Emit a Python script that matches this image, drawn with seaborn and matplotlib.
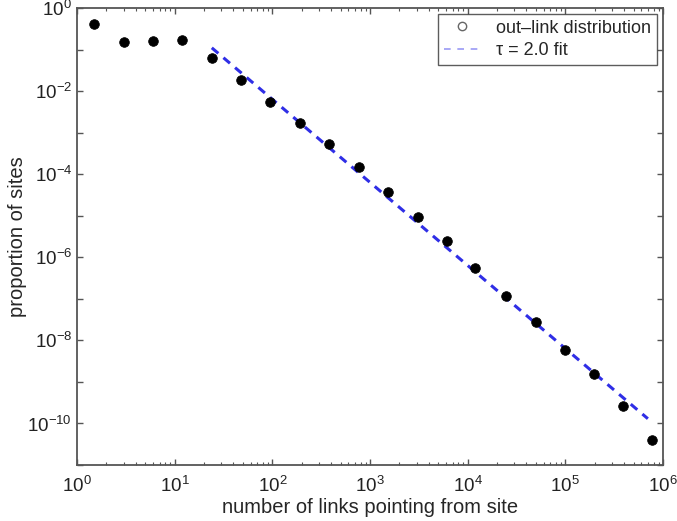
import matplotlib
matplotlib.use("Agg")
import matplotlib.pyplot as plt
import matplotlib.ticker as mticker
from matplotlib.lines import Line2D
import seaborn as sns
import pandas as pd

# out-link distribution
links = [1.5, 3, 6, 12, 24, 48, 94, 192, 380, 770, 1520, 3100, 6100,
         12000, 24500, 50000, 1.0e5, 1.95e5, 3.9e5, 7.8e5]
proportion = [0.42, 0.155, 0.16, 0.17, 0.061, 0.019, 5.5e-3, 1.7e-3, 5.2e-4,
              1.5e-4, 3.7e-5, 9.5e-6, 2.4e-6, 5.5e-7, 1.2e-7, 2.8e-8,
              5.8e-9, 1.55e-9, 2.7e-10, 4.0e-11]

# tau = 2.0 fit line endpoints
fit_x = [24, 7.0e5]
fit_y = [0.11, 1.3e-10]

sns.set_style("ticks")
plt.rcParams['font.family'] = ['Liberation Sans', 'DejaVu Sans']
plt.rcParams['mathtext.fontset'] = 'custom'
plt.rcParams['mathtext.rm'] = 'Liberation Sans'
plt.rcParams['mathtext.it'] = 'Liberation Sans:italic'

fig = plt.figure(figsize=(6.77, 5.21), dpi=100)
ax = fig.add_axes([77/677, 56/521, (663-77)/677, (465-8)/521])

df = pd.DataFrame({"x": links, "y": proportion})
fit = pd.DataFrame({"x": fit_x, "y": fit_y})

sns.lineplot(data=fit, x="x", y="y", ax=ax, color="#2f2ee6", lw=2.2,
             linestyle=(0, (2.8, 2.2)), zorder=2)
sns.scatterplot(data=df, x="x", y="y", ax=ax, color="black", s=48,
                edgecolor="black", zorder=3)

ax.set_xscale("log")
ax.set_yscale("log")
ax.set_xlim(1, 1e6)
ax.set_ylim(1e-11, 1e0)

ax.xaxis.set_major_locator(mticker.FixedLocator([10.0**e for e in range(0, 7)]))
ax.xaxis.set_minor_locator(mticker.LogLocator(base=10, subs=range(2, 10), numticks=20))
ax.xaxis.set_minor_formatter(mticker.NullFormatter())
ax.xaxis.set_major_formatter(mticker.LogFormatterMathtext())

ax.yaxis.set_major_locator(mticker.FixedLocator([10.0**e for e in range(-10, 1, 2)]))
ax.yaxis.set_minor_locator(mticker.FixedLocator([10.0**e for e in range(-11, 0, 2)]))
ax.yaxis.set_minor_formatter(mticker.NullFormatter())
ax.yaxis.set_major_formatter(mticker.LogFormatterMathtext())

ax.tick_params(which="both", direction="in", top=True, right=True,
               color="#555555", labelsize=13.5, labelcolor="#222222")
ax.tick_params(which="major", length=4, width=1)
ax.tick_params(axis="y", which="minor", length=4, width=1)
ax.tick_params(axis="x", which="minor", length=2.5, width=0.8)
ax.tick_params(axis="x", which="major", pad=8)
for s in ax.spines.values():
    s.set_color("#555555")
    s.set_linewidth(1.3)

ax.set_xlabel("number of links pointing from site", fontsize=14.5, labelpad=1)
ax.set_ylabel("proportion of sites", fontsize=14.5, labelpad=0)

handles = [
    Line2D([], [], marker="o", linestyle="none", markerfacecolor="none",
           markeredgecolor="#666666", markersize=6, markeredgewidth=1),
    Line2D([], [], color="#9a9af5", lw=1.2, linestyle=(0, (4, 4))),
]
leg = ax.legend(handles, ["out\u2013link distribution", "\u03c4 = 2.0 fit"],
                loc="upper right", fontsize=13, frameon=True, fancybox=False,
                edgecolor="#333333", borderaxespad=0.35, handlelength=2.0,
                borderpad=0.3, labelspacing=0.3, handletextpad=0.9)
leg.get_frame().set_linewidth(1.0)

fig.savefig("out.png", dpi=100)
